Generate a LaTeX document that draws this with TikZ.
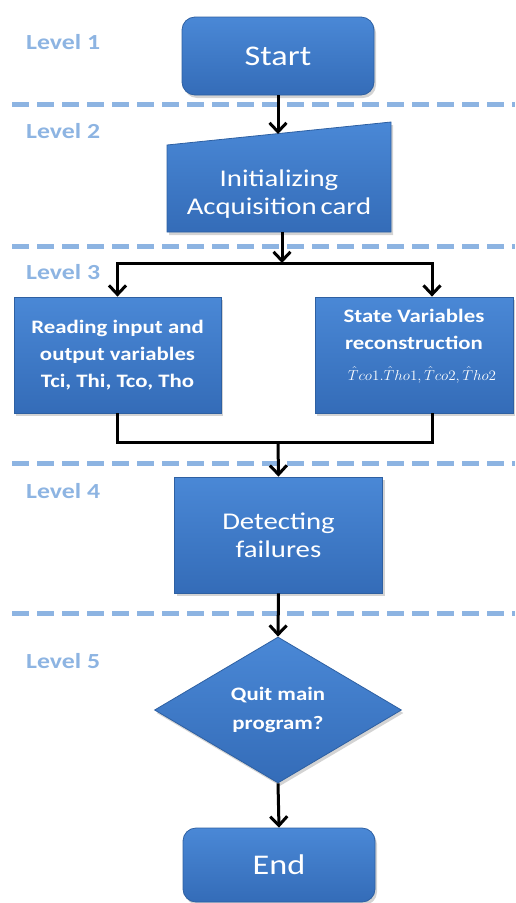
\documentclass[tikz,border=0pt]{standalone}
\usepackage{fontspec}
\setmainfont{Carlito}[FakeStretch=1.2]
\usetikzlibrary{shapes.geometric,arrows.meta,shadows,calc}
\definecolor{boxtop}{HTML}{4A88D6}
\definecolor{boxbot}{HTML}{346CB8}
\definecolor{boxedge}{HTML}{2E60A2}
\definecolor{lvl}{HTML}{8DB4E2}
\begin{document}
\begin{tikzpicture}[x=1pt,y=-1pt,
  blue box/.style={draw=boxedge, line width=0.8pt, top color=boxtop, bottom color=boxbot,
    text=white, align=center, inner sep=0pt,
    drop shadow={opacity=0.35, shadow xshift=2pt, shadow yshift=-3pt}},
  levellabel/.style={text=lvl, font=\fontsize{21.5}{24}\selectfont\bfseries, anchor=base west, inner sep=0pt},
  levelline/.style={draw=lvl, line width=5pt, dash pattern=on 17pt off 8pt},
  conn/.style={line width=3pt, black},
  arr/.style={conn, -{Straight Barb[length=9pt,width=17pt,line width=3pt]}},
  bigtxt/.style={font=\fontsize{28.5}{32}\selectfont},
  midtxt/.style={font=\fontsize{24}{28}\selectfont},
  boldtxt/.style={font=\fontsize{19}{27}\selectfont\bfseries}
]
\useasboundingbox (0,0) rectangle (515,903);

% level separators
\draw[levelline] (12,104) -- (515,104);
\draw[levelline] (12,246) -- (515,246);
\draw[levelline] (12,463) -- (515,463);
\draw[levelline] (12,613) -- (515,613);

% level labels
\node[levellabel] (l1) at (26,49) {Level 1};
\node[levellabel] (l2) at (26,138) {Level 2};
\node[levellabel] (l3) at (26,279) {Level 3};
\node[levellabel] (l4) at (26,498) {Level 4};
\node[levellabel] (l5) at (26,668) {Level 5};

% Start
\node[blue box, rounded corners=13pt, minimum width=192pt, minimum height=78pt, bigtxt] (start) at (278,56) {Start};

% Initializing (manual input shape)
\path[blue box] (167,145) -- (391,122) -- (391,232) -- (167,232) -- cycle;
\node[text=white, align=center, midtxt, inner sep=0pt] (init) at (279,194) {Initializing\\Acquisition\,card};
\coordinate (inittop) at (278,134);
\coordinate (initbot) at (282,232);

% Level 3 boxes
\node[blue box, minimum width=207pt, minimum height=116pt, boldtxt] (rd) at (117.5,355) {Reading input and\\output variables\\Tci, Thi, Tco, Tho};
\node[blue box, minimum width=198pt, minimum height=116pt] (sv) at (414,355) {};
\node[text=white, align=center, boldtxt, inner sep=0pt] (svt) at (414,329) {State Variables\\reconstruction};
\node[text=white, inner sep=0pt, font=\fontsize{14}{15}\selectfont] (svm) at (422,375) {\scalebox{1.05}[1]{$\hat{T}co1.\hat{T}ho1,\hat{T}co2,\hat{T}ho2$}};

% Detecting
\node[blue box, minimum width=208pt, minimum height=116pt, midtxt] (det) at (278.5,535) {\raisebox{-4pt}{Detecting}\\\raisebox{-4pt}{failures}};

% Diamond
\node[blue box, diamond, minimum width=247pt, minimum height=146pt, font=\fontsize{19}{29}\selectfont\bfseries] (quit) at (278,710) {Quit main\\program?};

% End
\node[blue box, rounded corners=13pt, minimum width=192pt, minimum height=74pt, bigtxt] (endn) at (279,865) {End};

% connectors
\draw[arr] (start.south) -- (inittop);
\coordinate (split) at (282,263);
\draw[arr] (initbot) -- (split);
\draw[arr] (split) -| (rd.north);
\draw[arr] (split) -| ([xshift=18pt]sv.north);
\coordinate (merge) at (278,442);
\draw[conn] (rd.south) |- (merge);
\draw[conn] ([xshift=18pt]sv.south) |- (merge);
\draw[arr] (merge) -- (det.north);
\draw[arr] (det.south) -- (quit.north);
\draw[arr] (quit.south) -- (endn.north);
\end{tikzpicture}
\end{document}
